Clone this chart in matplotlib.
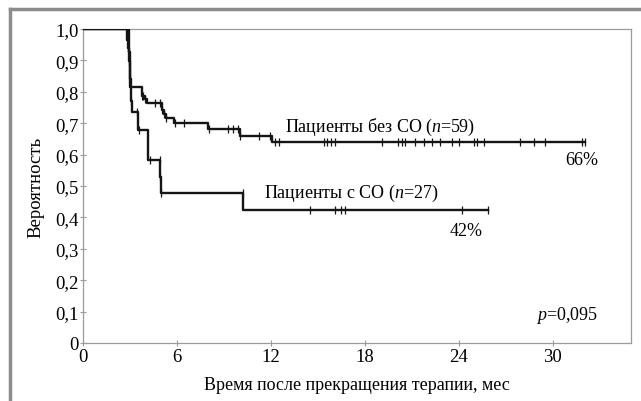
import numpy as np
import matplotlib.pyplot as plt
from matplotlib.lines import Line2D

plt.rcParams['font.family'] = ['Liberation Serif', 'DejaVu Serif']
plt.rcParams['mathtext.fontset'] = 'custom'
plt.rcParams['mathtext.rm'] = 'Liberation Serif'
plt.rcParams['mathtext.it'] = 'Liberation Serif:italic'

# Patients without CO (n=59): step times (months) and survival after each step
t_no = [0, 2.8, 2.85, 2.9, 2.95, 3.0, 3.03, 3.73, 3.95, 4.1, 5.01, 5.16, 5.3, 5.8, 8.0, 10.03, 12.05]
s_no = [1.0, 0.966, 0.94, 0.918, 0.897, 0.841, 0.814, 0.788, 0.777, 0.764, 0.741, 0.73, 0.716, 0.70, 0.68, 0.66, 0.639]
end_no = 32.1
cens_no = [2.85, 2.9, 2.95, 3.0, 3.73, 3.84, 3.95, 4.59, 4.91, 5.01, 5.16, 5.3, 5.87, 6.44,
           8.04, 9.28, 9.6, 9.92, 10.03, 11.2, 11.95,
           12.27, 12.48, 15.4, 15.6, 15.83, 16.1, 19.09, 20.15, 20.37, 20.58, 21.22, 21.75,
           22.29, 22.82, 23.57, 24.0, 25.0, 25.2, 25.6, 27.94, 28.79, 29.54, 31.9, 32.1]

# Patients with CO (n=27)
t_co = [0, 2.9, 3.0, 3.03, 3.1, 3.49, 4.16, 4.93, 4.97, 10.24]
s_co = [1.0, 0.926, 0.815, 0.772, 0.735, 0.679, 0.582, 0.53, 0.478, 0.424]
end_co = 25.85
cens_co = [3.03, 3.45, 3.55, 4.27, 4.9, 4.93, 4.97, 10.2, 14.5, 16.1, 16.47, 16.74, 24.2, 25.85]

x_ticks = [0, 6, 12, 18, 24, 30]
y_ticks = [0, 0.1, 0.2, 0.3, 0.4, 0.5, 0.6, 0.7, 0.8, 0.9, 1.0]
y_labels = ['0', '0,1', '0,2', '0,3', '0,4', '0,5', '0,6', '0,7', '0,8', '0,9', '1,0']


def level_at(times, surv, t):
    idx = np.searchsorted(times, t, side='right') - 1
    return surv[idx]


fig = plt.figure(figsize=(6.41, 4.02), dpi=100)
ax = fig.add_axes([0.130, 0.1443, 0.854, 0.7811])

line_col = '#151515'
for times, surv, end, cens in [(t_no, s_no, end_no, cens_no), (t_co, s_co, end_co, cens_co)]:
    xs = list(times) + [end]
    ys = list(surv) + [surv[-1]]
    ax.step(xs, ys, where='post', color=line_col, lw=1.7, zorder=3)
    cy = [level_at(times, surv, c) for c in cens]
    ax.plot(cens, cy, ls='none', marker='|', ms=5.5, mew=0.9, color=line_col, zorder=4)

ax.set_xlim(0, 35)
ax.set_ylim(0, 1.0)
ax.set_xticks(x_ticks)
ax.set_yticks(y_ticks)
ax.set_yticklabels(y_labels)

for sp in ax.spines.values():
    sp.set_color('#9a9a9a')
    sp.set_linewidth(0.9)
ax.tick_params(direction='inout', length=5, width=0.8, color='#9a9a9a',
               labelsize=13.5, pad=1)

ax.set_xlabel('Время после прекращения терапии, мес', fontsize=13, labelpad=8)
ax.set_ylabel('Вероятность', fontsize=13.5, labelpad=8)

fs = 13
ax.text(12.9, 0.69, 'Пациенты без СО ($n$=59)', fontsize=fs, ha='left', va='center')
ax.text(32.9, 0.583, '66%', fontsize=fs, ha='right', va='center')
ax.text(11.55, 0.48, 'Пациенты с СО ($n$=27)', fontsize=fs, ha='left', va='center')
ax.text(25.5, 0.357, '42%', fontsize=fs, ha='right', va='center')
ax.text(32.9, 0.092, '$p$=0,095', fontsize=fs, ha='right', va='center')

# outer frame (partly cropped)
fig.add_artist(Line2D([10 / 641, 1], [1 - 10 / 402, 1 - 10 / 402], color='#8c8c8c', lw=2.5))
fig.add_artist(Line2D([10 / 641, 10 / 641], [0, 1 - 10 / 402], color='#8c8c8c', lw=2.5))

fig.savefig('out.png', dpi=100)
